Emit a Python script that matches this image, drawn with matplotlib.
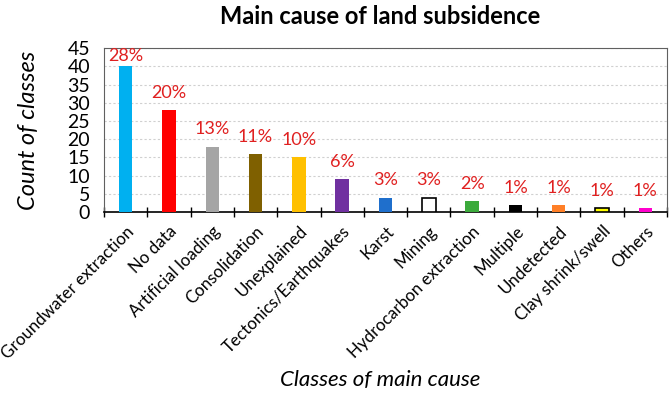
import matplotlib.pyplot as plt
import numpy as np

plt.rcParams['font.family'] = ['Lato', 'DejaVu Sans']

# data
categories = ["Groundwater extraction", "No data", "Artificial loading", "Consolidation",
              "Unexplained", "Tectonics/Earthquakes", "Karst", "Mining",
              "Hydrocarbon extraction", "Multiple", "Undetected", "Clay shrink/swell", "Others"]
counts = [40, 28, 18, 16, 15, 9, 4, 4, 3, 2, 2, 1, 1]
percent_labels = ["28%", "20%", "13%", "11%", "10%", "6%", "3%", "3%", "2%", "1%", "1%", "1%", "1%"]
bar_colors = ["#00B0F0", "#FF0000", "#A5A5A5", "#7F6000", "#FFC000", "#7030A0", "#1F6FCC",
              "#FFFFFF", "#3CAA3C", "#000000", "#FF7F27", "#FFFF00", "#FF00CC"]
edge_colors = ["none"] * 7 + ["#000000"] + ["none"] * 3 + ["#000000", "none"]

fig = plt.figure(figsize=(6.71, 3.95), dpi=100)
ax = fig.add_axes([0.155, 0.463, 0.839, 0.415])

x = np.arange(len(categories))
ax.bar(x, counts, width=0.31, color=bar_colors, edgecolor=edge_colors, linewidth=1.2, zorder=3)

for xi, c, lab in zip(x, counts, percent_labels):
    ax.text(xi, min(c + 4.7, 42.8), lab, ha="center", va="center", color="#E02020", fontsize=13)

ax.set_xlim(-0.5, len(categories) - 0.5)
ax.set_ylim(0, 45)
ax.set_yticks(range(0, 46, 5))
ax.yaxis.grid(True, linestyle=(0, (2, 2)), color="#D0D0D0", linewidth=0.8, zorder=0)

# Excel-style ticks between categories
ax.set_xticks(x)
ax.set_xticklabels(categories, rotation=45, ha="right", rotation_mode="anchor", fontsize=12.2)
ax.tick_params(axis="x", length=0, pad=8)
ax.set_xticks(np.arange(-0.5, len(categories)), minor=True)
ax.tick_params(axis="x", which="minor", length=7, direction="inout", width=1)
ax.tick_params(axis="y", length=0, labelsize=14, pad=10)

for s in ["top", "right", "left"]:
    ax.spines[s].set_color("#606060")
ax.spines["bottom"].set_color("#000000")
ax.spines["bottom"].set_linewidth(1.2)

fig.text(28 / 671, 0.67, "Count of classes", fontsize=17, style="italic", rotation=90,
         ha="center", va="center")
fig.text(0.567, 0.038, "Classes of main cause", fontsize=16, style="italic", ha="center", va="center")
fig.text(0.567, 0.958, "Main cause of land subsidence", fontsize=17, fontweight="bold", ha="center", va="center")

fig.savefig("out.png", dpi=100)
